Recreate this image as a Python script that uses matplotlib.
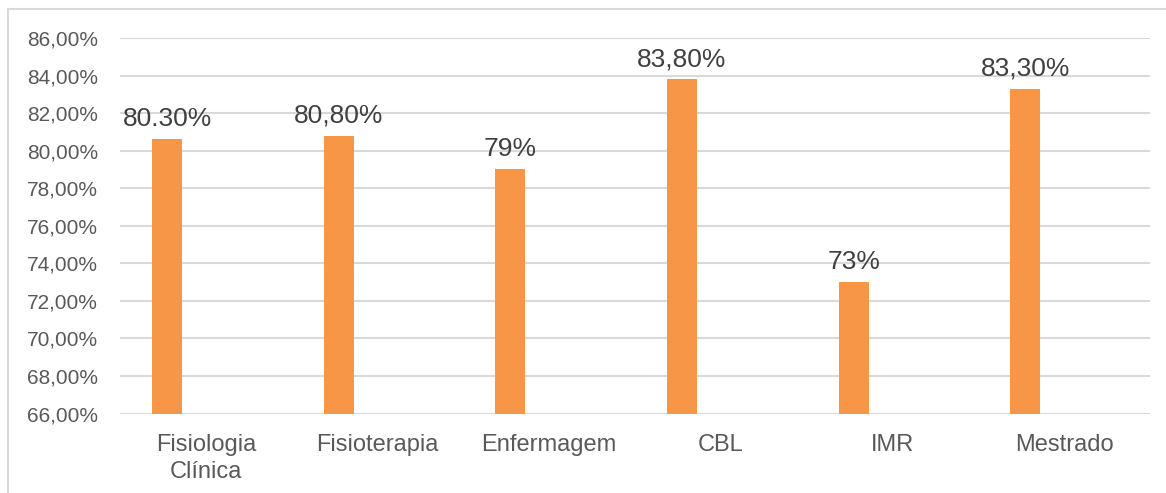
import matplotlib
matplotlib.use("Agg")
import matplotlib.pyplot as plt
from matplotlib.patches import Rectangle
import numpy as np

categories = ["Fisiologia\nClínica", "Fisioterapia", "Enfermagem", "CBL", "IMR", "Mestrado"]
values = [80.6, 80.8, 79.0, 83.8, 73.0, 83.3]
value_labels = ["80.30%", "80,80%", "79%", "83,80%", "73%", "83,30%"]
yticks = [66, 68, 70, 72, 74, 76, 78, 80, 82, 84, 86]

plt.rcParams['font.family'] = ['Liberation Sans', 'DejaVu Sans']

fig = plt.figure(figsize=(11.66, 4.93), dpi=100)
ax = fig.add_axes([120/1166, 1-413.5/493, (1150-120)/1166, (413.5-38)/493])

x = np.arange(len(categories))
bw = 0.175
off = -0.226
bars = ax.bar(x + off, [v - 66 for v in values], bottom=66, width=bw, color="#F79646", zorder=3)

for xi, v, lab in zip(x, values, value_labels):
    ax.annotate(lab, (xi + off, v), xytext=(0, 14.5), textcoords="offset points",
                ha="center", va="center", fontsize=19, color="#404040", zorder=4)

ax.set_xlim(-0.5, len(categories) - 0.5)
ax.set_ylim(66, 86)
ax.set_yticks(yticks)
ax.set_yticklabels([f"{t},00%" for t in yticks], fontsize=15, color="#595959")
ax.set_xticks(x)
ax.set_xticklabels(categories, fontsize=17, color="#595959", linespacing=1.3)
ax.tick_params(axis="y", length=0, pad=16)
ax.tick_params(axis="x", length=0, pad=14.5)
ax.grid(axis="y", color="#D9D9D9", linewidth=1.5, zorder=0)
for s in ax.spines.values():
    s.set_visible(False)

fig.patches.append(Rectangle((8/1166, -0.1), 1.2, 1 - 9/493 + 0.1, transform=fig.transFigure,
                             fill=False, edgecolor="#D9D9D9", linewidth=1.5))

fig.savefig("out.png", dpi=100)
